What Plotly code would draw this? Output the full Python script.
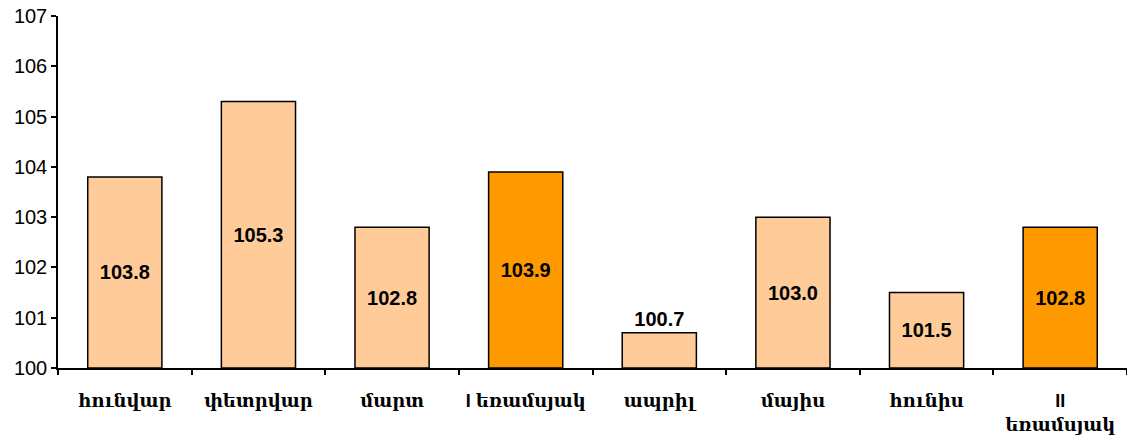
import plotly.graph_objects as go

categories = ["հունվար", "փետրվար", "մարտ", "I եռամսյակ", "ապրիլ", "մայիս", "հունիս", "II<br>եռամսյակ"]
values = [103.8, 105.3, 102.8, 103.9, 100.7, 103.0, 101.5, 102.8]
is_quarter = [False, False, False, True, False, False, False, True]
label_text = [f"{v:.1f}" for v in values]

colors = ["#FF9900" if q else "#FFCC99" for q in is_quarter]
positions = ["outside" if v - 100 < 0.9 else "inside" for v in values]

fig = go.Figure(go.Bar(
    x=categories,
    y=[v - 100 for v in values],
    base=100,
    marker=dict(color=colors, line=dict(color="black", width=1.5)),
    text=label_text,
    textposition=positions,
    insidetextanchor="middle",
    textangle=0,
    textfont=dict(family="Liberation Sans, Arial", size=20, color="black", weight="bold"),
    constraintext="none",
    cliponaxis=False,
    hoverinfo="skip",
))

fig.update_layout(
    width=1127, height=445,
    margin=dict(l=58, r=0, t=16, b=77, autoexpand=False),
    paper_bgcolor="white", plot_bgcolor="white",
    bargap=0.445,
    showlegend=False,
)
fig.update_yaxes(
    range=[100, 107], dtick=1, tick0=100,
    showgrid=False, zeroline=False, automargin=False,
    showline=True, linecolor="black", linewidth=1.5,
    ticks="outside", ticklen=5, tickcolor="black", tickwidth=1.5,
    tickfont=dict(family="Liberation Sans, Arial", size=20, color="black"),
)
fig.update_xaxes(
    showgrid=False, showline=True, linecolor="black", linewidth=1.5,
    automargin=False, tickangle=0,
    ticks="outside", ticklen=5, tickcolor="black", tickwidth=1.5,
    tickson="boundaries",
    tickfont=dict(family="Liberation Sans, DejaVu Serif", size=18, color="black", weight="bold"),
    ticklabelstandoff=16,
)

fig.write_html("out.html", config={"displayModeBar": False},
               post_script="document.body.style.margin='0';")
